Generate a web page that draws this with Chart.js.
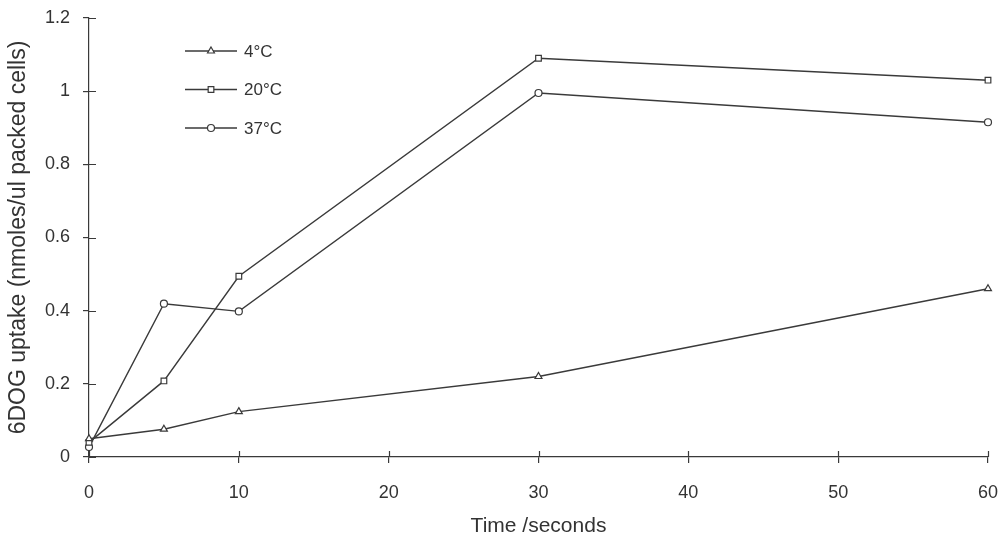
<!DOCTYPE html>
<html>
<head>
<meta charset="utf-8">
<script src="https://cdn.jsdelivr.net/npm/chart.js@4.4.1/dist/chart.umd.min.js"></script>
<style>
  html, body { margin: 0; padding: 0; background: #ffffff; }
  #wrap { width: 1008px; height: 537px; position: relative; }
</style>
</head>
<body>
<div id="wrap"><canvas id="c"></canvas></div>
<script>
// Uptake time course (seconds) at three temperatures
const timeSeconds = [0, 5, 10, 30, 60];
const uptake4C  = [0.05, 0.076, 0.124, 0.22, 0.46];
const uptake20C = [0.04, 0.208, 0.494, 1.09, 1.03];
const uptake37C = [0.027, 0.419, 0.398, 0.995, 0.915];
const seriesLabels = ['4°C', '20°C', '37°C'];
const xTicks = [0, 10, 20, 30, 40, 50, 60];
const yTicks = [0, 0.2, 0.4, 0.6, 0.8, 1, 1.2];

const ink = '#3a3a3a';
const FONT = '"Liberation Sans", Arial, sans-serif';

function toPoints(vals) {
  return timeSeconds.map((t, i) => ({ x: t, y: vals[i] }));
}

function ds(label, vals, style, r) {
  return {
    label: label,
    data: toPoints(vals),
    borderColor: ink,
    borderWidth: 1.4,
    pointStyle: style,
    pointRadius: r,
    pointBackgroundColor: '#ffffff',
    pointBorderColor: ink,
    pointBorderWidth: 1.2,
    tension: 0,
    fill: false,
    clip: false
  };
}

// Short ticks that poke into the plotting area as well as outside it
const innerTicks = {
  id: 'innerTicks',
  afterDraw(chart) {
    const ctx = chart.ctx;
    const xs = chart.scales.x, ys = chart.scales.y;
    ctx.save();
    ctx.strokeStyle = ink;
    ctx.lineWidth = 1.2;
    ctx.beginPath();
    xTicks.forEach(v => {
      const px = Math.round(xs.getPixelForValue(v)) + 0.5;
      ctx.moveTo(px, ys.bottom);
      ctx.lineTo(px, ys.bottom - 6);
    });
    yTicks.forEach(v => {
      const py = Math.round(ys.getPixelForValue(v)) + 0.5;
      ctx.moveTo(xs.left, py);
      ctx.lineTo(xs.left + 7, py);
    });
    ctx.stroke();
    ctx.restore();
  }
};

// Legend drawn inside the plot, each entry a line with its marker
const insideLegend = {
  id: 'insideLegend',
  afterDatasetsDraw(chart) {
    const ctx = chart.ctx;
    const x0 = 185, x1 = 237, y0 = 51, step = 38.5;
    ctx.save();
    chart.data.datasets.forEach((d, i) => {
      const y = y0 + i * step;
      ctx.strokeStyle = d.borderColor;
      ctx.lineWidth = d.borderWidth;
      ctx.beginPath();
      ctx.moveTo(x0, y);
      ctx.lineTo(x1, y);
      ctx.stroke();
      ctx.fillStyle = d.pointBackgroundColor;
      ctx.strokeStyle = d.pointBorderColor;
      ctx.lineWidth = d.pointBorderWidth;
      Chart.helpers.drawPoint(ctx, { pointStyle: d.pointStyle, radius: d.pointRadius, rotation: 0, borderWidth: d.pointBorderWidth }, (x0 + x1) / 2, y);
      ctx.fillStyle = '#333';
      ctx.font = '17px ' + FONT;
      ctx.textBaseline = 'middle';
      ctx.textAlign = 'left';
      ctx.fillText(d.label, x1 + 7, y + 1);
    });
    ctx.restore();
  }
};

new Chart(document.getElementById('c'), {
  type: 'line',
  data: {
    datasets: [
      ds(seriesLabels[0], uptake4C, 'triangle', 4),
      ds(seriesLabels[1], uptake20C, 'rect', 4),
      ds(seriesLabels[2], uptake37C, 'circle', 3.5)
    ]
  },
  options: {
    responsive: true,
    maintainAspectRatio: false,
    animation: false,
    layout: { padding: { top: 18, right: 20, left: 0, bottom: 0 } },
    plugins: {
      legend: { display: false },
      tooltip: { enabled: false }
    },
    scales: {
      x: {
        type: 'linear',
        min: 0,
        max: 60,
        afterBuildTicks(scale) { scale.ticks = xTicks.map(v => ({ value: v })); },
        afterFit(scale) { scale.height = 80; scale.paddingLeft = 0; scale.paddingRight = 0; },
        border: { display: true, color: ink, width: 1.2 },
        grid: { drawOnChartArea: false, drawTicks: true, tickLength: 6, color: ink, lineWidth: 1.2 },
        ticks: { color: '#333', font: { family: FONT, size: 18 }, padding: 19, maxRotation: 0 },
        title: { display: true, text: 'Time /seconds', color: '#333', font: { family: FONT, size: 21, lineHeight: 1 }, padding: { top: 0, bottom: 0 } }
      },
      y: {
        type: 'linear',
        min: 0,
        max: 1.2,
        afterBuildTicks(scale) { scale.ticks = yTicks.map(v => ({ value: v })); },
        afterFit(scale) { scale.width = 89; scale.paddingTop = 0; scale.paddingBottom = 0; },
        border: { display: true, color: ink, width: 1.2 },
        grid: { drawOnChartArea: false, drawTicks: true, tickLength: 6, color: ink, lineWidth: 1.2 },
        ticks: { color: '#333', font: { family: FONT, size: 18 }, padding: 13, callback: v => String(v) },
        title: { display: true, text: '6DOG uptake (nmoles/ul packed cells)', color: '#333', font: { family: FONT, size: 23, lineHeight: 1 }, padding: { top: 7, bottom: 0 } }
      }
    }
  },
  plugins: [innerTicks, insideLegend]
});
</script>
</body>
</html>
